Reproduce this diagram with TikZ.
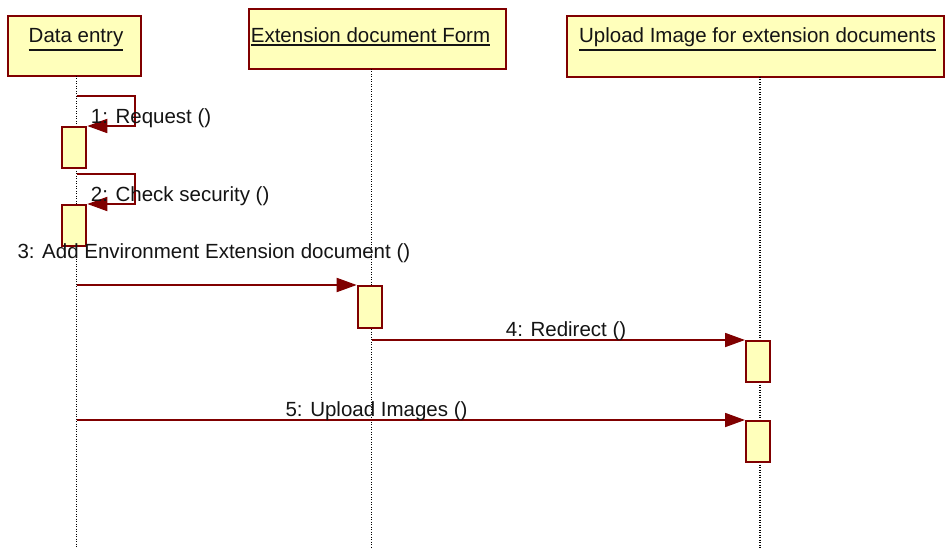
\documentclass[tikz,border=0pt]{standalone}
\usepackage{fontspec}
\setmainfont{Liberation Sans}
\usetikzlibrary{arrows.meta}
\definecolor{dred}{RGB}{128,0,0}
\definecolor{lyel}{RGB}{255,255,187}
\definecolor{txt}{RGB}{20,20,20}
\newcommand\myul[1]{\leavevmode\vtop{\hbox{#1}\kern1.3pt\hrule height 2pt}}
\begin{document}
\begin{tikzpicture}[x=1pt,y=-1pt,
  every node/.style={font=\fontsize{20.5}{24}\selectfont, text=txt, inner sep=0pt},
  hdr/.style={draw=dred, fill=lyel, line width=2pt, rectangle},
  actbox/.style={draw=dred, fill=lyel, line width=2pt, rectangle, minimum width=24pt, minimum height=41pt, anchor=north},
  lifeline/.style={black, line width=1.1pt, dash pattern=on 1pt off 1.5pt},
  msg/.style={dred, line width=1.8pt, -{Triangle[length=20pt,width=14pt]}},
  hlabel/.style={anchor=base},
  mlabel/.style={anchor=base west}]
\useasboundingbox (0,0) rectangle (945,548);

% header boxes
\node[hdr, minimum width=132.5pt, minimum height=60pt] (de) at (74.3,46) {};
\node[hdr, minimum width=256.5pt, minimum height=60pt] (ef) at (377.7,39) {};
\node[hdr, minimum width=376.5pt, minimum height=61pt] (up) at (755.5,46.5) {};
\node[hlabel] (deT) at (76,43) {\myul{Data entry}};
\node[hlabel] (efT) at (370.5,43) {\myul{Extension document Form}};
\node[hlabel] (upT) at (757.5,43) {\myul{Upload Image for extension documents}};

% lifelines
\coordinate (deTop) at (76.7,76);
\coordinate (deBot) at (76.7,548);
\coordinate (efTop) at (371.7,69);
\coordinate (efBot) at (371.7,548);
\coordinate (upTop) at (760,77);
\coordinate (upBot) at (760,548);
\draw[lifeline] (deTop) -- (deBot);
\draw[lifeline] (efTop) -- (efBot);
\draw[lifeline] (upTop) -- (upBot);

% activation boxes
\node[actbox] (a1) at (74.3,126) {};
\node[actbox] (a2) at (74.3,204) {};
\node[actbox, minimum height=42pt] (e1) at (369.7,285) {};
\node[actbox] (u1) at (758,340) {};
\node[actbox] (u2) at (758,420) {};

% messages
\coordinate (m1s) at (76.7,96.3);
\coordinate (m1c) at (134.7,96.3);
\draw[msg] (m1s) -- (m1c) |- (a1.north east);
\coordinate (m2s) at (76.7,173.7);
\coordinate (m2c) at (134.7,173.7);
\draw[msg] (m2s) -- (m2c) |- (a2.north east);
\draw[msg] (deTop |- e1.north west) -- (e1.north west);
\draw[msg] (efTop |- u1.north west) -- (u1.north west);
\draw[msg] (deTop |- u2.north west) -- (u2.north west);

% message labels
\node[mlabel] (l1) at (90.7,123.3) {1: Request ()};
\node[mlabel] (l2) at (90.7,201.7) {2: Check security ()};
\node[mlabel] (l3) at (17.3,258.3) {3: Add Environment Extension document ()};
\node[mlabel] (l4) at (505.7,336) {4: Redirect ()};
\node[anchor=base east] (l5) at (467.7,416.7) {5: Upload Images ()};
\end{tikzpicture}
\end{document}
